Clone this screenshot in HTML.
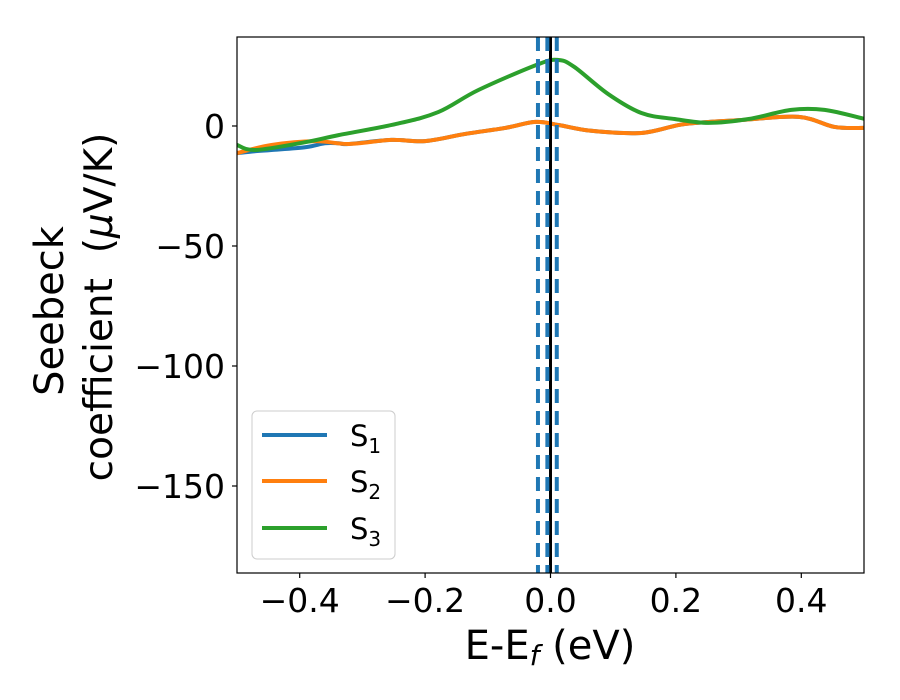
<!DOCTYPE html>
<html><head><meta charset="utf-8"><style>
body{margin:0;background:#fff;}
svg{display:block;font-family:"DejaVu Sans","Liberation Sans",sans-serif;}
</style></head><body>
<svg id="chart" width="900" height="700">
<defs><clipPath id="clip"><rect x="237" y="37" width="627" height="536"/></clipPath></defs>
<rect x="0" y="0" width="900" height="700" fill="#fff"/>
<g id="series" clip-path="url(#clip)"></g>
<rect x="237" y="37" width="627" height="536" fill="none" stroke="#000" stroke-width="1.2"/>
<g id="ticks"></g>
<text x="550" y="659" font-size="40" text-anchor="middle">E-E<tspan font-style="italic" font-size="28" dy="6">f</tspan><tspan dy="-6"> (eV)</tspan></text>
<text transform="translate(63,311) rotate(-90)" font-size="40" text-anchor="middle">Seebeck</text>
<text transform="translate(112,307) rotate(-90)" font-size="39" text-anchor="middle">coefficient&#160;&#160;(<tspan font-style="italic">μ</tspan>V/K)</text>
<g>
<rect x="252" y="411" width="143" height="148" rx="5" fill="#fff" fill-opacity="0.8" stroke="#ccc" stroke-width="1"/>
<line x1="262" y1="435" x2="327" y2="435" stroke="#1f77b4" stroke-width="4"/>
<text x="350" y="446" font-size="29">S<tspan font-size="20" dy="7">1</tspan></text>
<line x1="262" y1="481" x2="327" y2="481" stroke="#ff7f0e" stroke-width="4"/>
<text x="350" y="492" font-size="29">S<tspan font-size="20" dy="7">2</tspan></text>
<line x1="262" y1="528" x2="327" y2="528" stroke="#2ca02c" stroke-width="4"/>
<text x="350" y="539" font-size="29">S<tspan font-size="20" dy="7">3</tspan></text>
</g>
</svg>
<script>
const xTicks = [-0.4, -0.2, 0.0, 0.2, 0.4];
const xTickLabels = ["−0.4", "−0.2", "0.0", "0.2", "0.4"];
const yTicks = [0, -50, -100, -150];
const yTickLabels = ["0", "−50", "−100", "−150"];
const s1x = [-0.5,-0.47,-0.445,-0.39,-0.36,-0.338,-0.322,-0.254,-0.2,-0.136,-0.072,-0.024,0.013,0.065,0.145,0.214,0.305,0.396,0.453,0.5];
const s1y = [-11.3,-10.5,-10,-8.8,-7.2,-7.2,-7.5,-5.8,-6.3,-3.3,-0.8,1.7,0.4,-2,-2.9,0.8,2.5,3.8,-0.4,-0.8];
const s2x = [-0.5,-0.445,-0.375,-0.322,-0.254,-0.2,-0.136,-0.072,-0.024,0.013,0.065,0.145,0.214,0.305,0.396,0.453,0.5];
const s2y = [-11.3,-7.9,-6.3,-7.5,-5.8,-6.3,-3.3,-0.8,1.7,0.4,-2,-2.9,0.8,2.5,3.8,-0.4,-0.8];
const s3x = [-0.5,-0.47,-0.39,-0.338,-0.247,-0.179,-0.115,-0.019,0.013,0.038,0.092,0.145,0.198,0.252,0.316,0.384,0.437,0.5];
const s3y = [-7.9,-10,-6.7,-3.8,0.8,5.8,15,25.8,27.5,24.6,13.3,5.4,2.9,1.3,2.9,6.7,6.7,3];
const fermiLevel = [0];
const dashedLevels = [-0.02, -0.005, 0.01];

const X0=237,X1=864,Y0=573,Y1=37,xmin=-0.5,xmax=0.5,ymin=-186.25,ymax=37.08;
function sx(v){return X0+(v-xmin)/(xmax-xmin)*(X1-X0);}
function sy(v){return Y0-(v-ymin)/(ymax-ymin)*(Y0-Y1);}
const NS="http://www.w3.org/2000/svg";
const series=document.getElementById('series');
const ticks=document.getElementById('ticks');
function mk(tag,parent){const e=document.createElementNS(NS,tag);parent.appendChild(e);return e;}
function smooth(xs,ys){
  const p=xs.map((x,i)=>[sx(x),sy(ys[i])]);
  let d="M"+p[0][0]+","+p[0][1];
  for(let i=0;i<p.length-1;i++){
    const p0=p[Math.max(0,i-1)],p1=p[i],p2=p[i+1],p3=p[Math.min(p.length-1,i+2)];
    const c1=[p1[0]+(p2[0]-p0[0])/6,p1[1]+(p2[1]-p0[1])/6];
    const c2=[p2[0]-(p3[0]-p1[0])/6,p2[1]-(p3[1]-p1[1])/6];
    d+=" C"+c1+" "+c2+" "+p2;
  }
  return d;
}
[[s1x,s1y,'#1f77b4','line-s1'],[s2x,s2y,'#ff7f0e','line-s2'],[s3x,s3y,'#2ca02c','line-s3']].forEach(s=>{
  const path=mk('path',series);
  path.setAttribute('d',smooth(s[0],s[1]));
  path.setAttribute('fill','none');path.setAttribute('stroke',s[2]);path.setAttribute('stroke-width','4');
  path.setAttribute('stroke-linejoin','round');
  
  
});
fermiLevel.forEach(v=>{
  const l=mk('line',series);
  l.setAttribute('x1',sx(v));l.setAttribute('x2',sx(v));l.setAttribute('y1',Y1);l.setAttribute('y2',Y0);
  l.setAttribute('stroke','#000');l.setAttribute('stroke-width','3');
  
  
});
dashedLevels.forEach(v=>{
  const l=mk('line',series);
  l.setAttribute('x1',sx(v));l.setAttribute('x2',sx(v));l.setAttribute('y1',Y1);l.setAttribute('y2',Y0);
  l.setAttribute('stroke','#1f77b4');l.setAttribute('stroke-width','4');l.setAttribute('stroke-dasharray','14 8');
  
  
});
xTicks.forEach((v,i)=>{
  const l=mk('line',ticks);
  l.setAttribute('x1',sx(v));l.setAttribute('x2',sx(v));l.setAttribute('y1',Y0);l.setAttribute('y2',Y0+5);
  l.setAttribute('stroke','#000');l.setAttribute('stroke-width','1.2');
  
  
  const t=mk('text',ticks);
  t.setAttribute('x',sx(v));t.setAttribute('y',Y0+39);t.setAttribute('font-size','33');t.setAttribute('text-anchor','middle');
  t.textContent=xTickLabels[i];
  
  
});
yTicks.forEach((v,i)=>{
  const l=mk('line',ticks);
  l.setAttribute('x1',X0-5);l.setAttribute('x2',X0);l.setAttribute('y1',sy(v));l.setAttribute('y2',sy(v));
  l.setAttribute('stroke','#000');l.setAttribute('stroke-width','1.2');
  
  
  const t=mk('text',ticks);
  t.setAttribute('x',X0-12);t.setAttribute('y',sy(v)+12);t.setAttribute('font-size','33');t.setAttribute('text-anchor','end');
  t.textContent=yTickLabels[i];
  
  
});
</script>
</body></html>
